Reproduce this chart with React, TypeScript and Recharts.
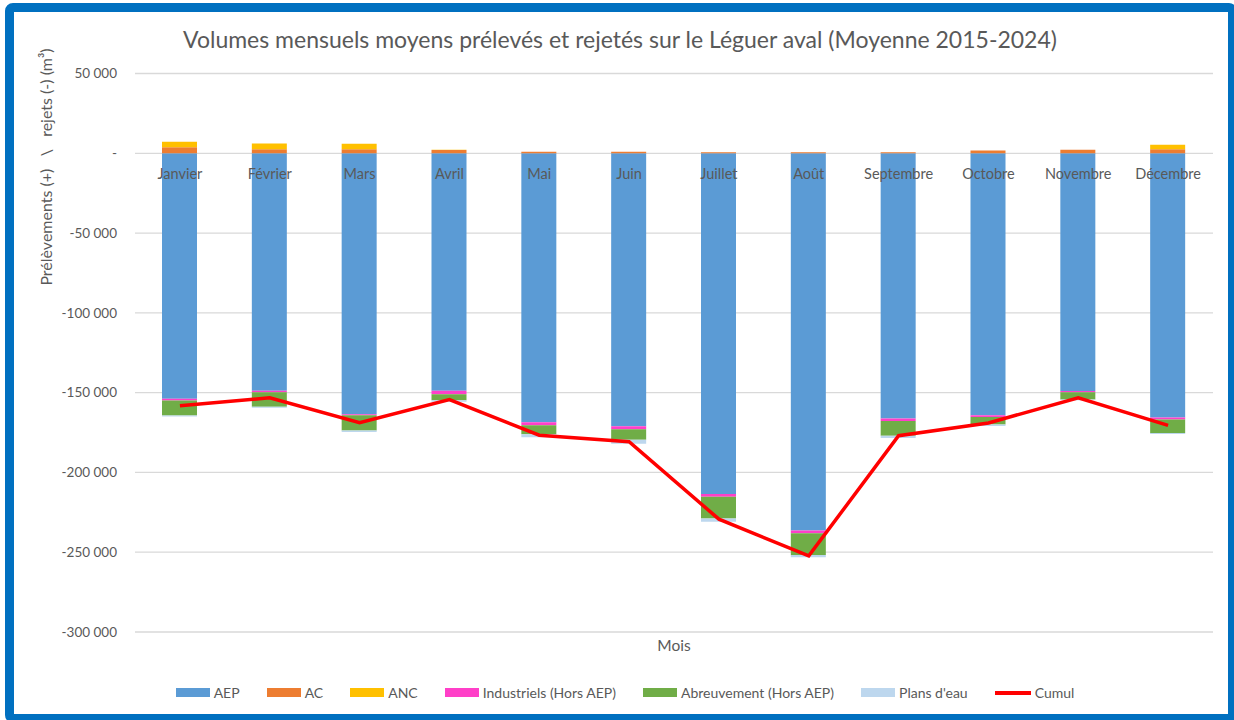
import React from 'react';
import { ComposedChart, Bar, Line, XAxis, YAxis, CartesianGrid } from 'recharts';

const months = ['Janvier', 'Février', 'Mars', 'Avril', 'Mai', 'Juin', 'Juillet', 'Août', 'Septembre', 'Octobre', 'Novembre', 'Décembre'];
const aep = [-153900, -148800, -163600, -148800, -168500, -171000, -213500, -236400, -166200, -164100, -148900, -165600];
const ac = [3800, 2500, 2500, 2000, 900, 900, 700, 700, 700, 1700, 2200, 2600];
const anc = [3400, 3600, 3400, 200, 0, 0, 0, 0, 0, 0, 0, 2800];
const industriels = [-1100, -900, -600, -2200, -2000, -2000, -1700, -1700, -1500, -1100, -900, -1300];
const abreuvement = [-9400, -9200, -9600, -3800, -5600, -6500, -13600, -13600, -9300, -4800, -4500, -8400];
const plansEau = [-600, -600, -900, -900, -1800, -2500, -2100, -1500, -1500, -900, -400, -600];
const cumul = [-158200, -153200, -168900, -154300, -176700, -180800, -229300, -252300, -177000, -169000, -153200, -170500];
const yTicks = [50000, 0, -50000, -100000, -150000, -200000, -250000, -300000];

const series = [
  { key: 'aep', name: 'AEP', color: '#5B9BD5' },
  { key: 'ac', name: 'AC', color: '#ED7D31' },
  { key: 'anc', name: 'ANC', color: '#FFC000' },
  { key: 'ind', name: 'Industriels (Hors AEP)', color: '#FF3FC8' },
  { key: 'abr', name: 'Abreuvement (Hors AEP)', color: '#70AD47' },
  { key: 'plans', name: "Plans d'eau", color: '#BDD7EE' },
];

const data = months.map((m, i) => ({
  month: m,
  aep: aep[i],
  ac: ac[i],
  anc: anc[i],
  ind: industriels[i],
  abr: abreuvement[i],
  plans: plansEau[i],
  cumul: cumul[i],
}));

const FONT = 'Lato, "Open Sans", sans-serif';
const TEXT = '#595959';
const Y_MAX = 50000;
const Y_MIN = -300000;
const PLOT_TOP = 73.5;
const PLOT_BOTTOM = 632;
const ZERO_Y = PLOT_TOP + ((PLOT_BOTTOM - PLOT_TOP) * Y_MAX) / (Y_MAX - Y_MIN);

const fmt = (v: number) => {
  if (v === 0) return '-';
  const s = Math.abs(v).toString().replace(/\B(?=(\d{3})+(?!\d))/g, ' ');
  return (v < 0 ? '-' : '') + s;
};

// month labels sit next to the zero line, like Excel does
const MonthTick = (props: any) => {
  const { x, payload } = props;
  return (
    <text x={x} y={ZERO_Y + 26} textAnchor="middle" fill={TEXT} fontSize={14.5} fontFamily={FONT}>
      {payload.value}
    </text>
  );
};

const App: React.FC = () => {
  return (
    <div style={{ position: 'absolute', left: 0, top: 0, width: 1234, height: 720, overflow: 'hidden', background: '#fff', fontFamily: FONT }}>
      <div
        style={{
          position: 'absolute',
          left: 5,
          top: 3,
          width: 1232,
          height: 720,
          border: '9px solid #0070C0',
          borderRadius: 8,
          boxSizing: 'border-box',
        }}
      />
      <div style={{ position: 'absolute', left: 0, top: 25, width: 1240, textAlign: 'center', fontSize: 23, color: TEXT }}>
        Volumes mensuels moyens prélevés et rejetés sur le Léguer aval (Moyenne 2015-2024)
      </div>
      <div
        style={{
          position: 'absolute',
          left: 45,
          top: 167,
          transform: 'translate(-50%, -50%) rotate(-90deg)',
          whiteSpace: 'pre',
          fontSize: 16,
          color: TEXT,
        }}
      >
        {'Prélèvements (+)   \\   rejets (-) (m³)'}
      </div>
      <div style={{ position: 'absolute', left: 0, top: 0 }}>
        <ComposedChart
          width={1234}
          height={720}
          data={data}
          stackOffset="sign"
          barSize={35}
          margin={{ top: PLOT_TOP, right: 21, left: 65, bottom: 720 - PLOT_BOTTOM - 30 }}
        >
          <CartesianGrid vertical={false} stroke="#d9d9d9" strokeWidth={1.3} />
          <XAxis
            dataKey="month"
            axisLine={false}
            tickLine={false}
            tick={<MonthTick />}
            interval={0}
            height={30}
            label={{ value: 'Mois', position: 'insideTop', offset: 8, fill: TEXT, fontSize: 15.5, fontFamily: FONT }}
          />
          <YAxis
            domain={[Y_MIN, Y_MAX]}
            ticks={yTicks}
            interval={0}
            width={70}
            axisLine={false}
            tickLine={false}
            tickSize={0}
            tickMargin={18}
            tickFormatter={fmt}
            tick={{ fill: TEXT, fontSize: 13.5, fontFamily: FONT }}
          />
          {series.map((s) => (
            <Bar key={s.key} dataKey={s.key} name={s.name} stackId="a" fill={s.color} isAnimationActive={false} />
          ))}
          <Line
            dataKey="cumul"
            name="Cumul"
            type="linear"
            stroke="#FF0000"
            strokeWidth={3.5}
            dot={false}
            isAnimationActive={false}
          />
        </ComposedChart>
      </div>
      <div
        style={{
          position: 'absolute',
          left: 0,
          top: 684,
          width: 1250,
          display: 'flex',
          justifyContent: 'center',
          alignItems: 'center',
          fontSize: 14,
          color: TEXT,
        }}
      >
        {series.map((s) => (
          <div key={s.key} style={{ display: 'flex', alignItems: 'center', margin: '0 13.5px' }}>
            <span style={{ display: 'inline-block', width: 34, height: 9, background: s.color, marginRight: 4 }} />
            <span>{s.name}</span>
          </div>
        ))}
        <div style={{ display: 'flex', alignItems: 'center', margin: '0 13.5px' }}>
          <span style={{ display: 'inline-block', width: 36, height: 4, background: '#FF0000', marginRight: 4 }} />
          <span>Cumul</span>
        </div>
      </div>
    </div>
  );
};

export default App;
